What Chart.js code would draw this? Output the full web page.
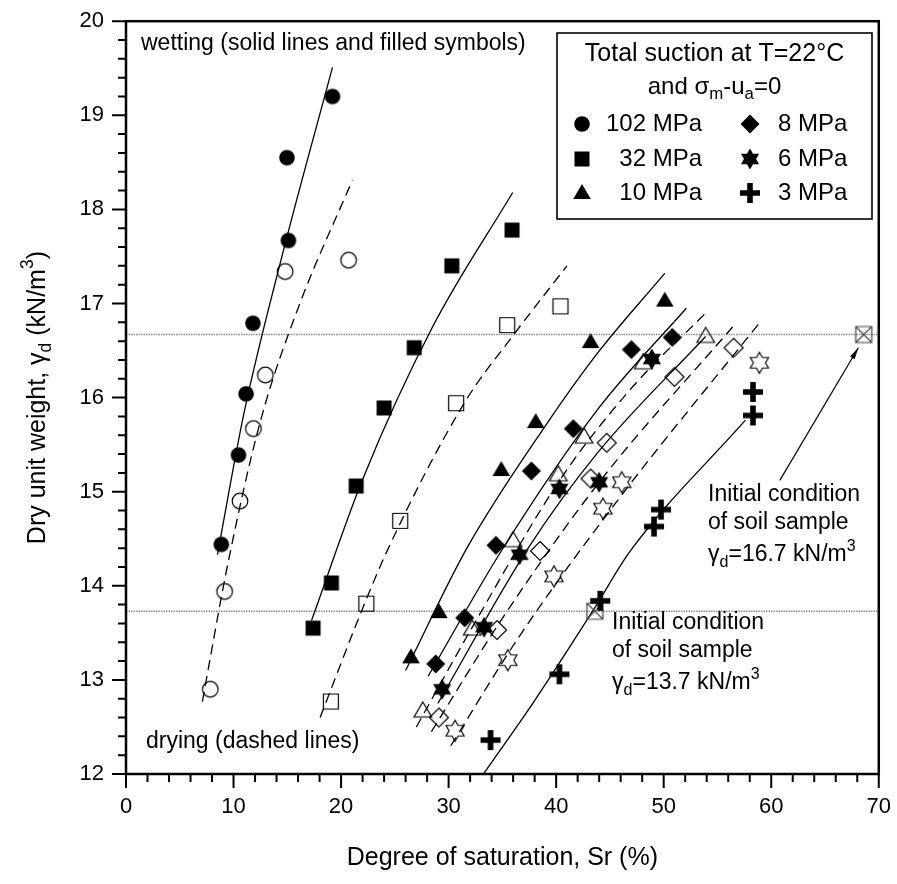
<!DOCTYPE html>
<html>
<head>
<meta charset="utf-8">
<script src="https://cdn.jsdelivr.net/npm/chart.js@4.4.1/dist/chart.umd.min.js"></script>
<style>
  html, body { margin: 0; padding: 0; background: #fff; }
  #wrap { width: 897px; height: 884px; }
</style>
</head>
<body>
<div id="wrap"><canvas id="chart" width="897" height="884"></canvas></div>
<script>
// ---- data (Sr %, dry unit weight kN/m3) ----
const suctionLabels = ["102 MPa", "32 MPa", "10 MPa", "8 MPa", "6 MPa", "3 MPa"];

const wet102 = [[8.86, 14.44], [10.46, 15.39], [11.17, 16.04], [11.8, 16.79], [15.1, 17.67], [14.97, 18.55], [19.2, 19.2]];
const dry102 = [[7.84, 12.9], [9.17, 13.94], [10.6, 14.9], [11.85, 15.67], [12.96, 16.24], [14.8, 17.34], [20.7, 17.46]];
const wet32 = [[17.4, 13.55], [19.1, 14.03], [21.4, 15.06], [24.0, 15.89], [26.8, 16.53], [30.3, 17.4], [35.9, 17.78]];
const dry32 = [[19.05, 12.77], [22.35, 13.81], [25.5, 14.69], [30.7, 15.94], [35.45, 16.77], [40.4, 16.97]];
const wet10 = [[26.5, 13.24], [29.1, 13.72], [34.9, 15.23], [38.1, 15.74], [43.2, 16.59], [50.1, 17.03]];
const dry10 = [[27.6, 12.67], [32.2, 13.54], [36.0, 14.48], [40.2, 15.18], [42.6, 15.58], [48.1, 16.37], [53.9, 16.65]];
const wet8 = [[28.8, 13.17], [31.5, 13.66], [34.4, 14.43], [37.7, 15.22], [41.6, 15.67], [47.0, 16.51], [50.8, 16.64]];
const dry8 = [[29.1, 12.6], [34.5, 13.53], [38.5, 14.37], [43.2, 15.14], [44.7, 15.52], [51.0, 16.22], [56.5, 16.53]];
const wet6 = [[29.4, 12.9], [33.3, 13.56], [36.6, 14.33], [40.3, 15.03], [44.0, 15.1], [48.9, 16.41]];
const dry6 = [[30.6, 12.46], [35.5, 13.21], [39.8, 14.1], [44.35, 14.82], [46.1, 15.1], [58.9, 16.37]];
const wet3 = [[33.9, 12.36], [40.3, 13.06], [44.1, 13.84], [49.1, 14.63], [49.75, 14.81], [58.3, 15.81], [58.3, 16.06]];
const initialPoints = [[43.6, 13.73], [68.6, 16.67]];

// fitted curves (solid = wetting, dashed = drying)
const fitWet102 = [[8.5, 14.33], [11.0, 15.85], [14.5, 17.5], [19.2, 19.51]];
const fitDry102 = [[7.1, 12.77], [9.5, 14.25], [12.5, 15.75], [16.0, 16.95], [21.05, 18.31]];
const fitWet32 = [[17.25, 13.63], [22.0, 15.13], [28.5, 16.75], [35.96, 18.18]];
const fitDry32 = [[18.05, 12.6], [21.9, 13.73], [24.4, 14.4], [31.5, 15.95], [36.2, 16.69], [41.0, 17.4]];
const fitWet10 = [[26.0, 13.1], [31.7, 14.4], [39.0, 15.7], [43.9, 16.48], [50.1, 17.32]];
const fitDry10 = [[27.0, 12.5], [32.5, 13.62], [40.5, 15.15], [47.0, 16.1], [54.0, 16.91]];
const fitWet8 = [[28.1, 13.04], [34.9, 14.37], [43.9, 15.88], [52.1, 16.95]];
const fitDry8 = [[28.4, 12.45], [34.8, 13.62], [44.0, 15.1], [56.4, 16.75]];
const fitWet6 = [[29.0, 12.75], [37.4, 14.4], [43.9, 15.42], [53.9, 16.65]];
const fitDry6 = [[30.2, 12.3], [36.5, 13.45], [46.0, 14.95], [58.95, 16.8]];
const fitWet3 = [[33.3, 12.01], [38.0, 12.78], [43.5, 13.75], [46.9, 14.37], [57.6, 15.76]];

const initialLevels = [16.67, 13.73];
const arrowFrom = [60.8, 15.12];
const arrowTo = [68.1, 16.53];

const xTickLabels = [0, 10, 20, 30, 40, 50, 60, 70];
const yTickLabels = [12, 13, 14, 15, 16, 17, 18, 19, 20];

// ---- marker images ----
function marker(shape, filled) {
  const s = 28;
  const c = document.createElement("canvas");
  c.width = s; c.height = s;
  const g = c.getContext("2d");
  g.translate(s / 2, s / 2);
  g.fillStyle = "#000";
  g.strokeStyle = "#000";
  g.lineWidth = 1.2;
  g.beginPath();
  if (shape === "circle") {
    g.arc(0, 0, 7.8, 0, Math.PI * 2);
  } else if (shape === "square") {
    g.rect(-7.5, -7.5, 15, 15);
  } else if (shape === "triangle") {
    g.moveTo(0, -9); g.lineTo(8.8, 6); g.lineTo(-8.8, 6); g.closePath();
  } else if (shape === "diamond") {
    g.moveTo(0, -9.5); g.lineTo(9.5, 0); g.lineTo(0, 9.5); g.lineTo(-9.5, 0); g.closePath();
  } else if (shape === "star") {
    const R = 10.5, r = R / Math.sqrt(3);
    for (let i = 0; i < 12; i++) {
      const a = -Math.PI / 2 + i * Math.PI / 6;
      const rad = i % 2 === 0 ? R : r;
      const px = rad * Math.cos(a), py = rad * Math.sin(a);
      if (i === 0) g.moveTo(px, py); else g.lineTo(px, py);
    }
    g.closePath();
  } else if (shape === "plus") {
    g.rect(-10, -2.8, 20, 5.6);
    g.rect(-2.8, -10, 5.6, 20);
  } else if (shape === "boxx") {
    g.strokeStyle = "#444";
    g.rect(-8, -8, 16, 16);
    g.moveTo(-8, -8); g.lineTo(8, 8);
    g.moveTo(8, -8); g.lineTo(-8, 8);
  }
  if (filled) g.fill(); else g.stroke();
  return c;
}

const mk = {
  circle: marker("circle", true), circleO: marker("circle", false),
  square: marker("square", true), squareO: marker("square", false),
  triangle: marker("triangle", true), triangleO: marker("triangle", false),
  diamond: marker("diamond", true), diamondO: marker("diamond", false),
  star: marker("star", true), starO: marker("star", false),
  plus: marker("plus", true), boxx: marker("boxx", false),
};
const legendMarkers = [mk.circle, mk.square, mk.triangle, mk.diamond, mk.star, mk.plus];

const toXY = (arr) => arr.map((p) => ({ x: p[0], y: p[1] }));

function pointSet(arr, img) {
  return {
    type: "scatter",
    data: toXY(arr),
    pointStyle: img,
    pointRadius: 9,
    showLine: false,
    clip: false,
    order: 1,
  };
}

function curveSet(arr, dashed) {
  return {
    type: "line",
    data: toXY(arr),
    borderColor: "#000",
    borderWidth: 1.3,
    borderDash: dashed ? [10, 6] : [],
    pointRadius: 0,
    cubicInterpolationMode: "monotone",
    fill: false,
    order: 2,
  };
}

function levelSet(level) {
  return {
    type: "line",
    data: [{ x: 0, y: level }, { x: 70, y: level }],
    borderColor: "#8a8a8a",
    borderWidth: 1.4,
    borderDash: [1.5, 1],
    pointRadius: 0,
    order: 3,
  };
}

const datasets = [
  levelSet(initialLevels[0]), levelSet(initialLevels[1]),
  curveSet(fitWet102, false), curveSet(fitDry102, true),
  curveSet(fitWet32, false), curveSet(fitDry32, true),
  curveSet(fitWet10, false), curveSet(fitDry10, true),
  curveSet(fitWet8, false), curveSet(fitDry8, true),
  curveSet(fitWet6, false), curveSet(fitDry6, true),
  curveSet(fitWet3, false),
  pointSet(wet102, mk.circle), pointSet(dry102, mk.circleO),
  pointSet(wet32, mk.square), pointSet(dry32, mk.squareO),
  pointSet(wet10, mk.triangle), pointSet(dry10, mk.triangleO),
  pointSet(wet8, mk.diamond), pointSet(dry8, mk.diamondO),
  pointSet(wet6, mk.star), pointSet(dry6, mk.starO),
  pointSet(wet3, mk.plus), pointSet(initialPoints, mk.boxx),
];

const FONT = "Liberation Sans, Arial, sans-serif";

// text with sub/superscripts: parts = [[text, "" | "sub" | "sup"], ...]
function richWidth(ctx, parts, size) {
  let w = 0;
  parts.forEach(([t, kind]) => {
    ctx.font = (kind ? size * 0.7 : size) + "px " + FONT;
    w += ctx.measureText(t).width;
  });
  return w;
}
function drawRich(ctx, parts, x, y, size, align) {
  const w = richWidth(ctx, parts, size);
  let cx = align === "center" ? x - w / 2 : align === "right" ? x - w : x;
  ctx.textBaseline = "middle";
  ctx.textAlign = "left";
  parts.forEach(([t, kind]) => {
    const s = kind ? size * 0.7 : size;
    ctx.font = s + "px " + FONT;
    const dy = kind === "sub" ? size * 0.32 : kind === "sup" ? -size * 0.38 : 0;
    ctx.fillText(t, cx, y + dy);
    cx += ctx.measureText(t).width;
  });
}

const decorations = {
  id: "decorations",
  afterDraw(chart) {
    const ctx = chart.ctx;
    const a = chart.chartArea;
    const xs = chart.scales.x, ys = chart.scales.y;
    ctx.save();
    ctx.fillStyle = "#000";
    ctx.strokeStyle = "#000";

    // frame
    ctx.lineWidth = 2.5;
    ctx.strokeRect(a.left, a.top, a.right - a.left, a.bottom - a.top);

    // ticks (outward)
    ctx.lineWidth = 2;
    ctx.beginPath();
    xs.ticks.forEach((t) => {
      const px = xs.getPixelForValue(t.value);
      const len = xTickLabels.includes(Math.round(t.value * 1000) / 1000) ? 14 : 8;
      ctx.moveTo(px, a.bottom); ctx.lineTo(px, a.bottom + len);
    });
    ys.ticks.forEach((t) => {
      const py = ys.getPixelForValue(t.value);
      const len = yTickLabels.includes(Math.round(t.value * 1000) / 1000) ? 14 : 8;
      ctx.moveTo(a.left, py); ctx.lineTo(a.left - len, py);
    });
    ctx.stroke();

    // axis titles
    drawRich(ctx, [["Degree of saturation, Sr (%)", ""]], (a.left + a.right) / 2, 858, 25, "center");
    ctx.save();
    ctx.translate(38, (a.top + a.bottom) / 2);
    ctx.rotate(-Math.PI / 2);
    drawRich(ctx, [["Dry unit weight, \u03b3", ""], ["d", "sub"], [" (kN/m", ""], ["3", "sup"], [")", ""]], 0, 0, 25, "center");
    ctx.restore();

    // annotations
    drawRich(ctx, [["wetting (solid lines and filled symbols)", ""]], 141, 44, 23, "left");
    drawRich(ctx, [["drying (dashed lines)", ""]], 146, 742, 23, "left");
    drawRich(ctx, [["Initial condition", ""]], 708, 495, 23, "left");
    drawRich(ctx, [["of soil sample", ""]], 708, 523, 23, "left");
    drawRich(ctx, [["\u03b3", ""], ["d", "sub"], ["=16.7 kN/m", ""], ["3", "sup"]], 708, 555, 23, "left");
    drawRich(ctx, [["Initial condition", ""]], 612, 623, 23, "left");
    drawRich(ctx, [["of soil sample", ""]], 612, 651, 23, "left");
    drawRich(ctx, [["\u03b3", ""], ["d", "sub"], ["=13.7 kN/m", ""], ["3", "sup"]], 612, 683, 23, "left");

    // arrow to the upper initial point
    const x0 = xs.getPixelForValue(arrowFrom[0]), y0 = ys.getPixelForValue(arrowFrom[1]);
    const x1 = xs.getPixelForValue(arrowTo[0]), y1 = ys.getPixelForValue(arrowTo[1]);
    ctx.lineWidth = 1.2;
    ctx.beginPath(); ctx.moveTo(x0, y0); ctx.lineTo(x1, y1); ctx.stroke();
    const ang = Math.atan2(y1 - y0, x1 - x0);
    ctx.beginPath();
    ctx.moveTo(x1, y1);
    ctx.lineTo(x1 - 12 * Math.cos(ang - 0.22), y1 - 12 * Math.sin(ang - 0.22));
    ctx.lineTo(x1 - 12 * Math.cos(ang + 0.22), y1 - 12 * Math.sin(ang + 0.22));
    ctx.closePath(); ctx.fill();

    // legend box
    const L = 557, T = 33, R = 872, B = 219;
    ctx.fillStyle = "#fff";
    ctx.fillRect(L, T, R - L, B - T);
    ctx.fillStyle = "#000";
    ctx.lineWidth = 1.6;
    ctx.strokeRect(L, T, R - L, B - T);
    drawRich(ctx, [["Total suction at T=22\u00b0C", ""]], (L + R) / 2, 54, 25, "center");
    drawRich(ctx, [["and \u03c3", ""], ["m", "sub"], ["-u", ""], ["a", "sub"], ["=0", ""]], (L + R) / 2, 87, 24, "center");
    const rowY = [124, 159, 193];
    suctionLabels.forEach((lab, i) => {
      const col = i < 3 ? 0 : 1;
      const y = rowY[i % 3];
      const mx = col === 0 ? 582 : 750;
      const img = legendMarkers[i];
      ctx.drawImage(img, mx - img.width / 2, y - img.height / 2);
      drawRich(ctx, [[lab, ""]], col === 0 ? 702 : 778, y, 24, col === 0 ? "right" : "left");
    });
    ctx.restore();
  },
};

new Chart(document.getElementById("chart"), {
  type: "scatter",
  data: { datasets },
  options: {
    responsive: false,
    animation: false,
    devicePixelRatio: 1,
    layout: { padding: { left: 0, top: 17, right: 15, bottom: 0 } },
    plugins: { legend: { display: false }, tooltip: { enabled: false } },
    scales: {
      x: {
        type: "linear",
        min: 0,
        max: 70,
        afterFit: (scale) => { scale.height = 110; },
        grid: { display: true, drawOnChartArea: false, drawTicks: true, tickLength: 14, color: "rgba(0,0,0,0)" },
        border: { display: false },
        ticks: {
          stepSize: 2,
          autoSkip: false,
          maxRotation: 0,
          padding: 6,
          color: "#000",
          font: { family: FONT, size: 22 },
          callback: (v) => (xTickLabels.includes(Math.round(v * 1000) / 1000) ? v : ""),
        },
      },
      y: {
        type: "linear",
        min: 12,
        max: 20,
        afterFit: (scale) => { scale.width = 126; },
        grid: { display: true, drawOnChartArea: false, drawTicks: true, tickLength: 14, color: "rgba(0,0,0,0)" },
        border: { display: false },
        ticks: {
          stepSize: 0.2,
          autoSkip: false,
          padding: 8,
          color: "#000",
          font: { family: FONT, size: 22 },
          callback: (v) => {
            const r = Math.round(v * 1000) / 1000;
            return yTickLabels.includes(r) ? r : "";
          },
        },
      },
    },
  },
  plugins: [decorations],
});
</script>
</body>
</html>
